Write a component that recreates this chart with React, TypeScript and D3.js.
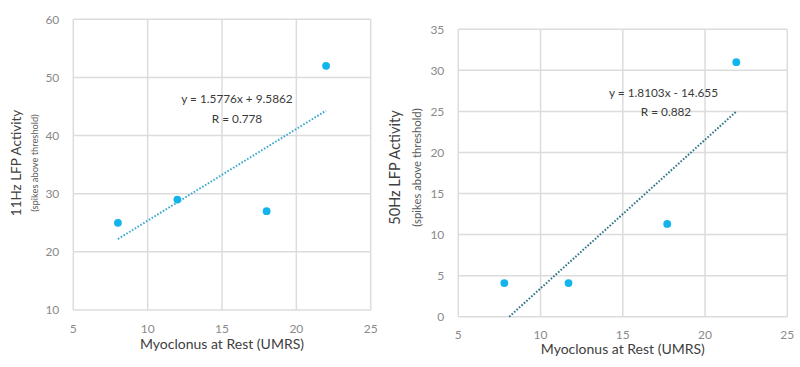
import * as d3 from "d3";

// 11 Hz panel
const umrs11 = [8, 12, 18, 22];
const lfp11 = [25, 29, 27, 52];
const fit11 = { slope: 1.5776, intercept: 9.5862, r: 0.778 };
const yTicks11 = [10, 20, 30, 40, 50, 60];

// 50 Hz panel
const umrs50 = [7.8, 11.7, 17.7, 21.9];
const lfp50 = [4.1, 4.1, 11.3, 31.0];
const fit50 = { slope: 1.8103, intercept: -14.655, r: 0.882 };
const yTicks50 = [0, 5, 10, 15, 20, 25, 30, 35];

const xTicks = [5, 10, 15, 20, 25];

const FONT = "Lato, 'Open Sans', sans-serif";
const POINT = "#12b4ec";
const GRID = "#dcdcdc";

type Fit = { slope: number; intercept: number; r: number };

type PanelProps = {
  xs: number[];
  ys: number[];
  fit: Fit;
  yTicks: number[];
  yTitle: string;
  left: number;
  right: number;
  top: number;
  bottom: number;
  xTickY: number;
  xTitleY: number;
  yTitleX: number;
  ySubX: number;
  yTitleY: number;
  yTitleSize: number;
  ySubSize: number;
  eqX: number;
  eqY: number;
  rX: number;
  rY: number;
  trendColor: string;
};

const fmtEq = (f: Fit) =>
  `y = ${f.slope}x ${f.intercept < 0 ? "-" : "+"} ${Math.abs(f.intercept)}`;

const Panel = (p: PanelProps) => {
  const x = d3.scaleLinear().domain([5, 25]).range([p.left, p.right]);
  const yDomain = d3.extent(p.yTicks) as [number, number];
  const y = d3.scaleLinear().domain(yDomain).range([p.bottom, p.top]);

  // trendline over the observed x range, clipped to the plot
  const x0 = Math.max(d3.min(p.xs)!, (yDomain[0] - p.fit.intercept) / p.fit.slope);
  const x1 = d3.max(p.xs)!;
  const line = d3
    .line<number>()
    .x((d) => x(d))
    .y((d) => y(p.fit.slope * d + p.fit.intercept));

  return (
    <g fontFamily={FONT}>
      {p.yTicks.map((t) => (
        <g key={"y" + t}>
          <line x1={p.left} x2={p.right} y1={y(t)} y2={y(t)} stroke={GRID} strokeWidth={1.5} />
          <text
            x={p.left - 14}
            y={y(t)}
            dy="0.35em"
            textAnchor="end"
            fontSize={12}
            fill="#8a8a8a"
          >
            {t}
          </text>
        </g>
      ))}
      {xTicks.map((t) => (
        <g key={"x" + t}>
          <line x1={x(t)} x2={x(t)} y1={p.top} y2={p.bottom} stroke={GRID} strokeWidth={1.5} />
          <text x={x(t)} y={p.xTickY} dy="0.35em" textAnchor="middle" fontSize={12} fill="#8a8a8a">
            {t}
          </text>
        </g>
      ))}
      <path
        d={line([x0, x1]) ?? ""}
        fill="none"
        stroke={p.trendColor}
        strokeWidth={2}
        strokeDasharray="1.6 1.7"
      />
      {p.xs.map((v, i) => (
        <circle key={i} cx={x(v)} cy={y(p.ys[i])} r={3.9} fill={POINT} />
      ))}
      <text x={p.eqX} y={p.eqY} dy="0.35em" textAnchor="middle" fontSize={11.8} fill="#3a3a3a">
        {fmtEq(p.fit)}
      </text>
      <text x={p.rX} y={p.rY} dy="0.35em" textAnchor="middle" fontSize={11.8} fill="#3a3a3a">
        {`R = ${p.fit.r}`}
      </text>
      <text
        x={(p.left + p.right) / 2}
        y={p.xTitleY}
        dy="0.35em"
        textAnchor="middle"
        fontSize={14}
        fill="#404040"
      >
        Myoclonus at Rest (UMRS)
      </text>
      <text
        transform={`translate(${p.yTitleX},${p.yTitleY}) rotate(-90)`}
        dy="0.35em"
        textAnchor="middle"
        fontSize={p.yTitleSize}
        fill="#404040"
      >
        {p.yTitle}
      </text>
      <text
        transform={`translate(${p.ySubX},${p.yTitleY}) rotate(-90)`}
        dy="0.35em"
        textAnchor="middle"
        fontSize={p.ySubSize}
        fill="#5a5a5a"
      >
        (spikes above threshold)
      </text>
    </g>
  );
};

export default function App() {
  return (
    <svg
      width={800}
      height={367}
      style={{ position: "absolute", left: 0, top: 0, background: "#fff" }}
    >
      <rect width={800} height={367} fill="#fff" />
      <Panel
        xs={umrs11}
        ys={lfp11}
        fit={fit11}
        yTicks={yTicks11}
        yTitle="11Hz LFP Activity"
        left={73.3}
        right={370.7}
        top={19.3}
        bottom={310}
        xTickY={329}
        xTitleY={344}
        yTitleX={16}
        ySubX={35}
        yTitleY={163}
        yTitleSize={13.5}
        ySubSize={9.3}
        eqX={237}
        eqY={98.5}
        rX={237}
        rY={119}
        trendColor="#3fabd0"
      />
      <Panel
        xs={umrs50}
        ys={lfp50}
        fit={fit50}
        yTicks={yTicks50}
        yTitle="50Hz LFP Activity"
        left={458.3}
        right={787.3}
        top={29.3}
        bottom={316.7}
        xTickY={334.5}
        xTitleY={349.5}
        yTitleX={395}
        ySubX={417}
        yTitleY={167.5}
        yTitleSize={14.5}
        ySubSize={11.3}
        eqX={663.5}
        eqY={92.7}
        rX={666}
        rY={111.7}
        trendColor="#2e7688"
      />
    </svg>
  );
}
